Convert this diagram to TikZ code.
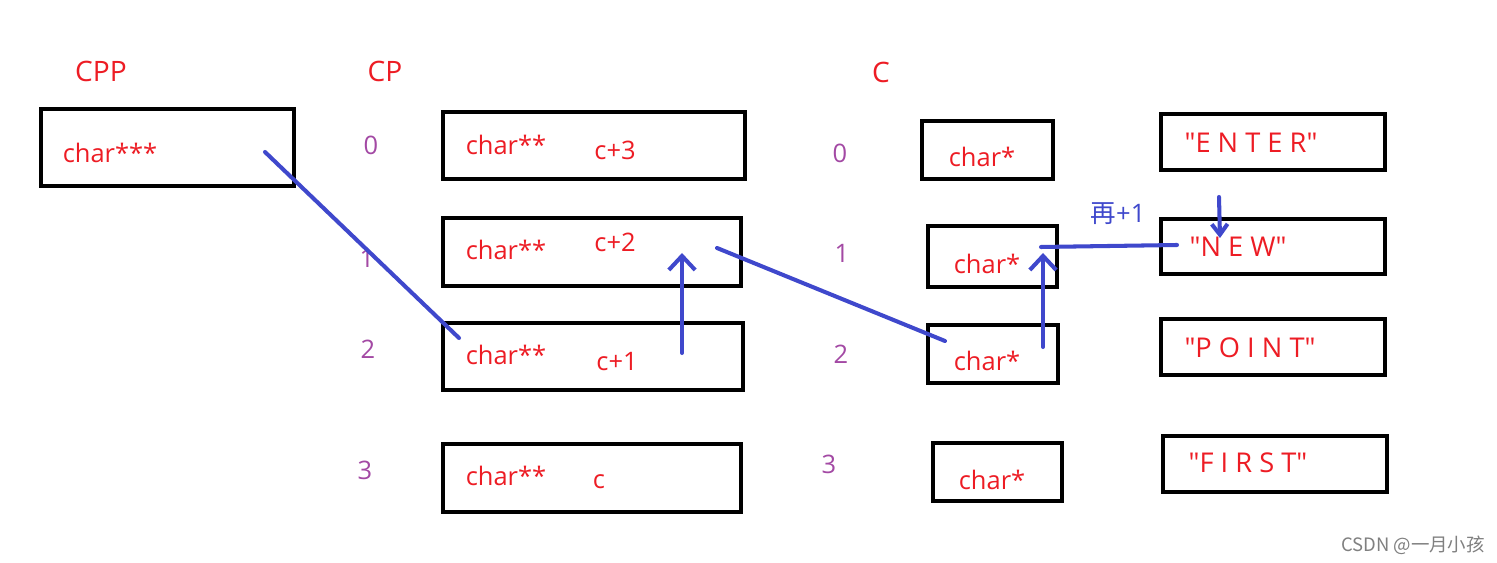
\documentclass[tikz,border=0pt]{standalone}
\usepackage{fontspec}
\setmainfont{Open Sans}
\newfontfamily\cjk{Noto Sans CJK SC}
\usetikzlibrary{arrows.meta}
\definecolor{penred}{RGB}{237,28,36}
\definecolor{penblue}{RGB}{63,72,204}
\definecolor{idxpurple}{RGB}{163,73,164}
% box from corner (#2,#3) to corner (#4,#5), in pixels
\newcommand\CellBox[5]{%
    \node[cell,minimum width={(#4-#2)*0.02cm},minimum height={(#5-#3)*0.02cm}]
        (#1) at ({(#2+#4)/2},{(#3+#5)/2}) {};
}
\newcommand\Qt[1]{\textquotedbl#1\textquotedbl}

\begin{document}
\begin{tikzpicture}[x=0.02cm,y=-0.02cm,
    cell/.style={draw=black,line width=2.5pt,inner sep=0pt},
    redtxt/.style={text=penred,font=\fontsize{14.5}{16}\selectfont,inner sep=0pt},
    strtxt/.style={redtxt,font=\fontsize{15.5}{17}\selectfont},
    idx/.style={text=idxpurple,font=\fontsize{14.5}{16}\selectfont,inner sep=0pt},
    head/.style={text=penred,font=\fontsize{16}{18}\selectfont,inner sep=0pt},
    pen/.style={draw=penblue,line width=2.3pt,line cap=round},
    penarrow/.style={pen,-{Straight Barb[length=8pt,width=15pt]}}]
    \useasboundingbox[fill=white] (0,0) rectangle (1497,563);

    % column titles
    \node[head] (cpptitle) at (101,71) {CPP};
    \node[head] (cptitle) at (385,71) {CP};
    \node[head] (ctitle) at (881,72) {C};

    % cpp
    \CellBox{cpp}{41}{109}{294}{186}
    \node[redtxt] (cpptxt) at (110,153) {char***};

    % cp
    \CellBox{cp0}{443}{112}{745}{179}
    \CellBox{cp1}{443}{218}{741}{286}
    \CellBox{cp2}{443}{323}{743}{390}
    \CellBox{cp3}{443}{444}{741}{512}
    \foreach \i/\y in {0/145,1/250,2/355,3/476}
        \node[redtxt] (cp\i txt) at (506,\y) {char**};
    \node[redtxt] (cp0off) at (615,150) {c+3};
    \node[redtxt] (cp1off) at (615,242) {c+2};
    \node[redtxt] (cp2off) at (617,362) {c+1};
    \node[redtxt] (cp3off) at (599,482) {c};
    \node[idx] (cpi0) at (371,145) {0};
    \node[idx] (cpi1) at (367,258) {1};
    \node[idx] (cpi2) at (368,349) {2};
    \node[idx] (cpi3) at (365,470) {3};

    % c
    \CellBox{c0}{922}{121}{1053}{179}
    \CellBox{c1}{928}{226}{1057}{287}
    \CellBox{c2}{928}{325}{1058}{383}
    \CellBox{c3}{933}{443}{1062}{501}
    \node[redtxt] (c0txt) at (982,157) {char*};
    \node[redtxt] (c1txt) at (987,264) {char*};
    \node[redtxt] (c2txt) at (987,361) {char*};
    \node[redtxt] (c3txt) at (992,480) {char*};
    \node[idx] (ci0) at (840,153) {0};
    \node[idx] (ci1) at (842,253) {1};
    \node[idx] (ci2) at (841,354) {2};
    \node[idx] (ci3) at (829,464) {3};

    % strings
    \CellBox{s0}{1161}{114}{1385}{170}
    \CellBox{s1}{1161}{219}{1385}{274}
    \CellBox{s2}{1161}{319}{1385}{375}
    \CellBox{s3}{1163}{436}{1387}{492}
    \node[strtxt] (s0txt) at (1251,143) {\Qt{E N T E R}};
    \node[strtxt] (s1txt) at (1238,247) {\Qt{N E W}};
    \node[strtxt] (s2txt) at (1250,348) {\Qt{P O I N T}};
    \node[strtxt] (s3txt) at (1248,463) {\Qt{F I R S T}};

    % pen strokes
    \coordinate (cppout) at (265,152);
    \coordinate (cp2in) at (459,338);
    \coordinate (cp2tail) at (682,353);
    \coordinate (cp1head) at (682,253);
    \coordinate (cp1out) at (717,248);
    \coordinate (c2in) at (945,341);
    \coordinate (c2tail) at (1043,347);
    \coordinate (c1head) at (1043,253);
    \coordinate (c1out) at (1041,247);
    \coordinate (s1in) at (1177,245);
    \coordinate (s0tail) at (1219,197);
    \coordinate (s1head) at (1220,238);
    \draw[pen] (cppout) -- (cp2in);
    \draw[penarrow] (cp2tail) -- (cp1head);
    \draw[pen] (cp1out) -- (c2in);
    \draw[penarrow] (c2tail) -- (c1head);
    \draw[pen] (c1out) -- (s1in);
    \draw[pen,-{Straight Barb[length=6pt,width=9pt]}] (s0tail) -- (s1head);
    \node[text=penblue,font=\fontsize{14.5}{16}\selectfont,inner sep=0pt] (again) at (1118,214) {{\cjk 再}+1};

    \node[text=gray,font=\cjk\fontsize{10.5}{12}\selectfont,inner sep=0pt] (mark) at (1413,545) {CSDN @一月小孩};
\end{tikzpicture}
\end{document}
